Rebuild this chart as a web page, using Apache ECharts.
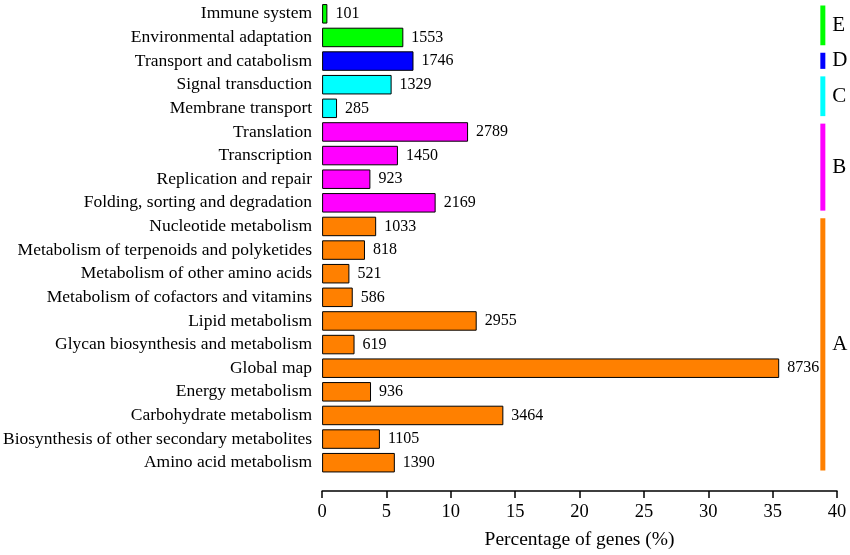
<!DOCTYPE html>
<html>
<head>
<meta charset="utf-8">
<script src="https://cdn.jsdelivr.net/npm/echarts@6/dist/echarts.min.js"></script>
<style>html,body{margin:0;padding:0;background:#fff}#main{width:850px;height:555px}</style>
</head>
<body>
<div id="main"></div>
<script>
const categories = [
  'Immune system', 'Environmental adaptation', 'Transport and catabolism',
  'Signal transduction', 'Membrane transport', 'Translation', 'Transcription',
  'Replication and repair', 'Folding, sorting and degradation', 'Nucleotide metabolism',
  'Metabolism of terpenoids and polyketides', 'Metabolism of other amino acids',
  'Metabolism of cofactors and vitamins', 'Lipid metabolism',
  'Glycan biosynthesis and metabolism', 'Global map', 'Energy metabolism',
  'Carbohydrate metabolism', 'Biosynthesis of other secondary metabolites',
  'Amino acid metabolism'
];
const percentages = [0.41, 6.31, 7.10, 5.40, 1.16, 11.34, 5.89, 3.75, 8.82, 4.20,
  3.33, 2.12, 2.38, 12.01, 2.52, 35.51, 3.80, 14.08, 4.49, 5.65];
const geneCounts = [101, 1553, 1746, 1329, 285, 2789, 1450, 923, 2169, 1033,
  818, 521, 586, 2955, 619, 8736, 936, 3464, 1105, 1390];
const groupNames = ['E', 'D', 'C', 'B', 'A'];
const groupStart = [0, 2, 3, 5, 9];
const groupEnd = [1, 2, 4, 8, 19];
const groupColors = ['#00ff00', '#0000ff', '#00ffff', '#ff00ff', '#ff8000'];
const xTicks = [0, 5, 10, 15, 20, 25, 30, 35, 40];
const bracketX = 38.9;

const FONT = '"Liberation Serif", "Times New Roman", serif';

function colorFor(i) {
  for (let g = 0; g < groupNames.length; g++) {
    if (i >= groupStart[g] && i <= groupEnd[g]) return groupColors[g];
  }
  return '#888';
}

const barData = percentages.map((v, i) => ({ value: v, itemStyle: { color: colorFor(i) } }));
const groupData = groupNames.map((n, g) => [bracketX, groupStart[g], groupEnd[g], g]);

const chart = echarts.init(document.getElementById('main'));
chart.setOption({
  animation: false,
  backgroundColor: '#fff',
  grid: { left: 321, right: 13, top: 2, bottom: 75, containLabel: false },
  xAxis: {
    type: 'value', min: xTicks[0], max: xTicks[xTicks.length - 1], interval: 5,
    offset: 16.5,
    axisLine: { show: true, lineStyle: { color: '#000', width: 1.5 } },
    axisTick: { show: true, length: 7, lineStyle: { color: '#000', width: 1.5 } },
    axisLabel: { color: '#000', fontFamily: FONT, fontSize: 18.5, margin: 12 },
    splitLine: { show: false },
    name: 'Percentage of genes (%)', nameLocation: 'middle', nameGap: 39,
    nameTextStyle: { color: '#000', fontFamily: FONT, fontSize: 19.5 }
  },
  yAxis: {
    type: 'category', inverse: true, data: categories,
    axisLine: { show: false }, axisTick: { show: false },
    axisLabel: { color: '#000', fontFamily: FONT, fontSize: 17.5, margin: 10 }
  },
  series: [
    {
      type: 'bar', data: barData, barWidth: 19.5,
      itemStyle: { borderColor: '#000', borderWidth: 1 },
      label: {
        show: true, position: 'right', distance: 8, color: '#000',
        fontFamily: FONT, fontSize: 16,
        formatter: p => String(geneCounts[p.dataIndex])
      }
    },
    {
      type: 'custom', data: groupData, clip: false,
      encode: { x: 0, y: [1, 2] },
      renderItem: function (params, api) {
        const g = api.value(3);
        const p1 = api.coord([api.value(0), api.value(1)]);
        const p2 = api.coord([api.value(0), api.value(2)]);
        const band = api.size([0, 1])[1];
        const top = Math.min(p1[1], p2[1]) - band / 2 + 3.5;
        const bottom = Math.max(p1[1], p2[1]) + band / 2 - 4;
        return {
          type: 'group',
          children: [
            { type: 'rect', shape: { x: p1[0] - 2.5, y: top, width: 5, height: bottom - top },
              style: { fill: groupColors[g] } },
            { type: 'text', style: { text: groupNames[g], x: p1[0] + 9.5, y: (top + bottom) / 2,
              align: 'left', verticalAlign: 'middle', fill: '#000', fontSize: 21, fontFamily: FONT } }
          ]
        };
      }
    }
  ]
});
</script>
</body>
</html>
